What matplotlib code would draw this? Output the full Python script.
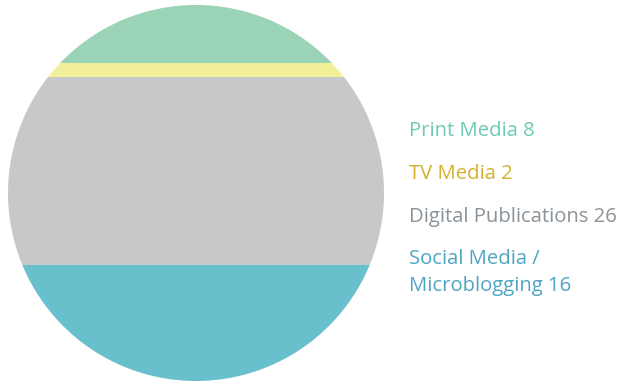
import matplotlib
matplotlib.use("Agg")
import matplotlib.pyplot as plt
from matplotlib.patches import Ellipse

categories = ["Print Media", "TV Media", "Digital Publications", "Social Media /\nMicroblogging"]
values = [8, 2, 26, 16]
fill_colors = ["#9bd3b7", "#f2f09a", "#c7c8ca", "#68c0cc"]
text_colors = ["#6ccbb5", "#d2b22c", "#8b9399", "#4ea5c2"]

W, H = 623, 382
fig = plt.figure(figsize=(W / 100, H / 100), dpi=100)
ax = fig.add_axes([8 / W, (H - 381) / H, 376 / W, 376 / H])
total = sum(values)
ax.set_xlim(-1, 1)
ax.set_ylim(total, 0)
ax.axis("off")

clip = Ellipse((0, total / 2), 2, total, transform=ax.transData, facecolor="none", edgecolor="none")
ax.add_patch(clip)

bottom = 0
for v, c in zip(values, fill_colors):
    bars = ax.bar(0, v, width=2, bottom=bottom, color=c, edgecolor="none", linewidth=0)
    for b in bars:
        b.set_clip_path(clip)
    bottom += v

baselines = [136, 179, 222, 264]
line_step = 27.5
for cat, v, tc, yb in zip(categories, values, text_colors, baselines):
    lines = f"{cat} {v}".split("\n")
    for i, ln in enumerate(lines):
        fig.text(409 / W, 1 - (yb + i * line_step) / H, ln, color=tc, fontsize=14.6,
                 family="Open Sans", va="baseline", ha="left")

fig.savefig("out.png", dpi=100)
